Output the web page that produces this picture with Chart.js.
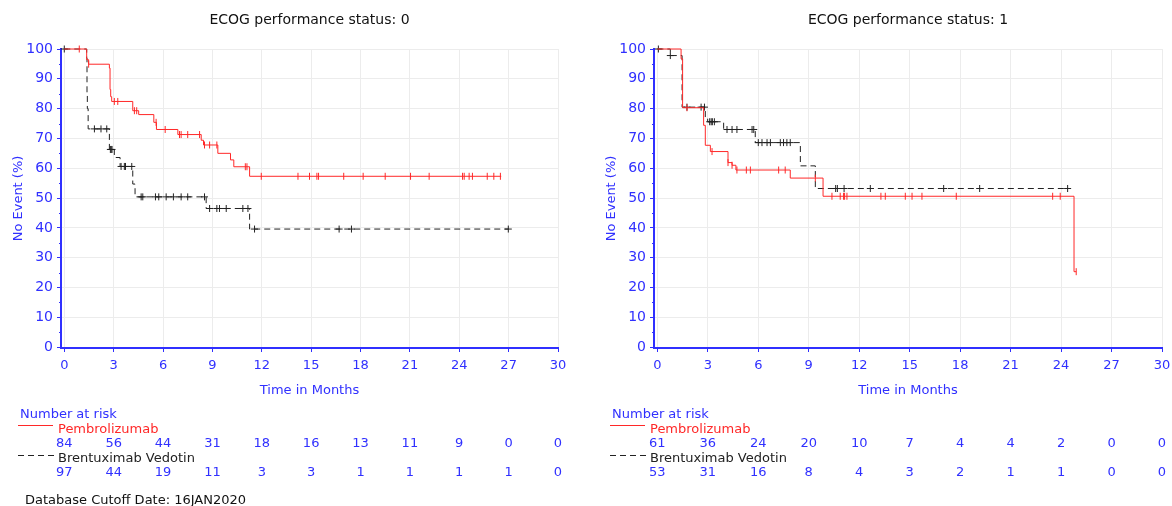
<!DOCTYPE html>
<html>
<head>
<meta charset="utf-8">
<script src="https://cdn.jsdelivr.net/npm/chart.js@4/dist/chart.umd.min.js"></script>
<style>
  body { margin: 0; background: #fff; }
  #wrap { position: relative; width: 1172px; height: 506px; }
  .panel { position: absolute; top: 0; width: 586px; height: 506px; }
</style>
</head>
<body>
<div id="wrap">
  <div class="panel" style="left:0"><canvas id="km0" width="586" height="506"></canvas></div>
  <div class="panel" style="left:586px"><canvas id="km1" width="586" height="506"></canvas></div>
</div>
<script>
// x ticks / risk table time points (months)
const riskTimes = [0, 3, 6, 9, 12, 15, 18, 21, 24, 27, 30];
const yTicks = [0, 10, 20, 30, 40, 50, 60, 70, 80, 90, 100];

// ECOG 0 - Pembrolizumab (step times and survival %)
const pembro0Time = [0, 1.36, 1.48, 2.74, 2.78, 2.82, 2.88, 4.16, 4.52, 5.44, 5.6, 6.9, 8.32, 8.46, 9.33, 10.1, 10.3, 11.26, 26.55];
const pembro0Surv = [100, 96.4, 94.9, 93.6, 86.4, 84.0, 82.4, 79.3, 78.0, 75.4, 73.0, 71.3, 69.4, 67.8, 65.0, 62.8, 60.5, 57.3, 57.3];
const pembro0Cens = [0.91, 1.48, 3.04, 3.25, 4.26, 4.4, 5.58, 6.13, 7.0, 7.1, 7.5, 8.22, 8.52, 8.83, 9.27, 11.0, 11.1, 11.97,
                     14.2, 14.9, 15.35, 15.45, 16.98, 18.16, 19.5, 21.04, 22.17, 24.2, 24.3, 24.6, 24.8, 25.7, 26.1, 26.5];

// ECOG 0 - Brentuximab Vedotin
const bv0Time = [0, 1.36, 1.38, 1.4, 1.45, 2.74, 3.04, 3.39, 4.16, 4.3, 8.62, 11.26, 27.0];
const bv0Surv = [100, 97.0, 84.7, 80.0, 73.2, 66.3, 63.6, 60.6, 54.7, 50.4, 46.5, 39.6, 39.6];
const bv0Cens = [0, 1.83, 2.23, 2.58, 2.8, 2.85, 2.9, 3.45, 3.65, 3.72, 4.1, 4.67, 4.77, 5.54, 5.74, 6.19, 6.63, 7.1, 7.5, 8.52,
                 8.83, 9.27, 9.43, 9.84, 10.85, 11.16, 11.56, 16.7, 17.45, 26.98];

// ECOG 1 - Pembrolizumab
const pembro1Time = [0, 1.41, 1.5, 2.75, 2.85, 3.15, 4.2, 4.44, 4.67, 7.9, 9.85, 24.77, 24.9];
const pembro1Surv = [100, 96.7, 80.3, 74.4, 67.7, 65.6, 61.9, 61.0, 59.4, 56.7, 50.6, 25.3, 25.3];
const pembro1Cens = [1.76, 3.25, 4.2, 4.44, 4.73, 5.29, 5.53, 7.21, 7.6, 9.39, 10.38, 10.87, 11.07, 11.13, 11.27, 13.29, 13.55,
                     14.74, 15.14, 15.73, 17.77, 23.5, 23.95, 24.9];

// ECOG 1 - Brentuximab Vedotin
const bv1Time = [0, 0.77, 1.47, 2.85, 2.99, 3.94, 5.82, 8.5, 9.39, 24.39];
const bv1Surv = [100, 97.8, 80.5, 77.0, 75.6, 73.0, 68.6, 60.8, 53.2, 53.2];
const bv1Cens = [0.06, 0.77, 1.76, 2.6, 2.8, 3.11, 3.2, 3.27, 3.39, 4.14, 4.44, 4.73, 5.63, 5.73, 6.0, 6.22, 6.52, 6.72, 7.31,
                 7.5, 7.7, 7.9, 10.6, 10.7, 11.1, 12.66, 17.02, 19.16, 24.39];

// numbers at risk
const pembro0Risk = [84, 56, 44, 31, 18, 16, 13, 11, 9, 0, 0];
const bv0Risk = [97, 44, 19, 11, 3, 3, 1, 1, 1, 1, 0];
const pembro1Risk = [61, 36, 24, 20, 10, 7, 4, 4, 2, 0, 0];
const bv1Risk = [53, 31, 16, 8, 4, 3, 2, 1, 1, 0, 0];

const BLUE = '#3030ff';
const RED = 'rgb(255,40,40)';
const DARK = '#222';
const FONT = '"DejaVu Sans", Verdana, sans-serif';

Chart.defaults.font.family = FONT;

// survival value at time t (for placing censor marks on the curve)
function survAt(times, surv, t) {
    let v = surv[0];
    for (let i = 0; i < times.length; i++) {
        if (times[i] <= t) v = surv[i];
    }
    return v;
}

const riskTable = {
    id: 'riskTable',
    afterDraw(chart, args, o) {
        const ctx = chart.ctx;
        const xs = chart.scales.x;
        const ys = chart.scales.y;
        ctx.save();

        // panel title, centred over the plot area
        ctx.font = '14px ' + FONT;
        ctx.textBaseline = 'middle';
        ctx.textAlign = 'center';
        ctx.fillStyle = '#111';
        ctx.fillText(o.title, (xs.left + xs.right) / 2, 20);

        // minor y ticks
        ctx.strokeStyle = BLUE;
        ctx.lineWidth = 1;
        for (let v = 5; v < 100; v += 10) {
            const py = Math.round(ys.getPixelForValue(v)) + 0.5;
            ctx.beginPath();
            ctx.moveTo(xs.left - 2, py);
            ctx.lineTo(xs.left, py);
            ctx.stroke();
        }

        ctx.font = '13px ' + FONT;
        ctx.textAlign = 'left';
        ctx.fillStyle = BLUE;
        ctx.fillText('Number at risk', o.left, 415);

        ctx.strokeStyle = RED;
        ctx.beginPath();
        ctx.moveTo(o.left - 2, 425.5);
        ctx.lineTo(o.left + 33, 425.5);
        ctx.stroke();
        ctx.fillStyle = RED;
        ctx.fillText('Pembrolizumab', o.left + 38, 430);

        ctx.strokeStyle = DARK;
        ctx.setLineDash([6, 4]);
        ctx.beginPath();
        ctx.moveTo(o.left - 2, 455.5);
        ctx.lineTo(o.left + 34, 455.5);
        ctx.stroke();
        ctx.setLineDash([]);
        ctx.fillStyle = DARK;
        ctx.fillText('Brentuximab Vedotin', o.left + 38, 459);

        ctx.textAlign = 'center';
        ctx.fillStyle = BLUE;
        riskTimes.forEach((t, i) => {
            const px = xs.getPixelForValue(t);
            ctx.fillText(String(o.pembro[i]), px, 444);
            ctx.fillText(String(o.bv[i]), px, 473);
        });

        if (o.cutoff) {
            ctx.textAlign = 'left';
            ctx.fillStyle = '#111';
            ctx.fillText(o.cutoff, 25, 501);
        }
        ctx.restore();
    }
};

function makeChart(id, cfg) {
    const ctx = document.getElementById(id).getContext('2d');
    const curve = (times, surv, color, dash) => ({
        type: 'line',
        data: times.map((t, i) => ({ x: t, y: surv[i] })),
        borderColor: color,
        borderWidth: 1,
        borderDash: dash,
        stepped: true,
        pointRadius: 0,
        fill: false,
        clip: 8
    });
    const marks = (cens, times, surv, color, style) => ({
        type: 'scatter',
        data: cens.map(t => ({ x: t, y: survAt(times, surv, t) })),
        showLine: false,
        borderColor: color,
        backgroundColor: color,
        borderWidth: 1,
        pointStyle: style,
        pointRotation: style === 'line' ? 90 : 0,
        pointRadius: 3.5,
        pointHoverRadius: 3.5,
        clip: 8
    });

    return new Chart(ctx, {
        type: 'line',
        data: {
            datasets: [
                curve(cfg.pTime, cfg.pSurv, RED, []),
                marks(cfg.pCens, cfg.pTime, cfg.pSurv, RED, 'line'),
                curve(cfg.bTime, cfg.bSurv, DARK, [6, 4]),
                marks(cfg.bCens, cfg.bTime, cfg.bSurv, DARK, 'cross')
            ]
        },
        options: {
            responsive: false,
            devicePixelRatio: 1,
            animation: false,
            events: [],
            layout: { padding: { left: 0, right: cfg.padRight, top: 49, bottom: 106 } },
            plugins: {
                legend: { display: false },
                tooltip: { enabled: false },
                title: { display: false },
                riskTable: { title: cfg.title, left: cfg.tableLeft, pembro: cfg.pRisk, bv: cfg.bRisk, cutoff: cfg.cutoff }
            },
            scales: {
                x: {
                    type: 'linear',
                    min: -0.2,
                    max: 30,
                    afterBuildTicks: s => { s.ticks = riskTimes.map(v => ({ value: v })); },
                    afterFit: s => { s.height = 52; s.paddingLeft = 0; s.paddingRight = 0; },
                    grid: { color: '#ececec', tickColor: BLUE, tickLength: 4 },
                    border: { color: BLUE, width: 2 },
                    ticks: { color: BLUE, font: { size: 13 }, padding: 6, maxRotation: 0, autoSkip: false },
                    title: {
                        display: true,
                        text: 'Time in Months',
                        color: BLUE,
                        font: { size: 13 },
                        padding: { top: 0, bottom: 1.2 }
                    }
                },
                y: {
                    min: -0.3,
                    max: 100,
                    afterBuildTicks: s => { s.ticks = yTicks.map(v => ({ value: v })); },
                    afterFit: s => { s.width = cfg.yWidth; },
                    grid: { color: '#ececec', tickColor: BLUE, tickLength: 4 },
                    border: { color: BLUE, width: 2 },
                    ticks: { color: BLUE, font: { size: 14 }, padding: 4 },
                    title: {
                        display: true,
                        text: 'No Event (%)',
                        color: BLUE,
                        font: { size: 13 },
                        padding: { top: cfg.yTitlePad, bottom: 0 }
                    }
                }
            }
        },
        plugins: [riskTable]
    });
}

makeChart('km0', {
    title: 'ECOG performance status: 0',
    pTime: pembro0Time, pSurv: pembro0Surv, pCens: pembro0Cens,
    bTime: bv0Time, bSurv: bv0Surv, bCens: bv0Cens,
    pRisk: pembro0Risk, bRisk: bv0Risk,
    yWidth: 61, padRight: 28, yTitlePad: 11, tableLeft: 20,
    cutoff: 'Database Cutoff Date: 16JAN2020'
});

makeChart('km1', {
    title: 'ECOG performance status: 1',
    pTime: pembro1Time, pSurv: pembro1Surv, pCens: pembro1Cens,
    bTime: bv1Time, bSurv: bv1Surv, bCens: bv1Cens,
    pRisk: pembro1Risk, bRisk: bv1Risk,
    yWidth: 68, padRight: 10, yTitlePad: 17.7, tableLeft: 26,
    cutoff: null
});
</script>
</body>
</html>
